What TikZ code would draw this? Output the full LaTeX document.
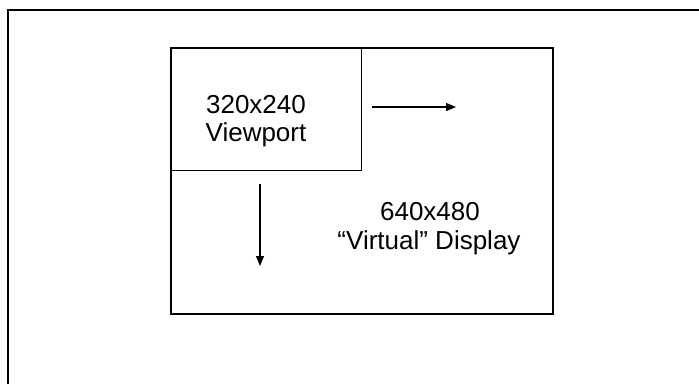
\documentclass[tikz,border=0pt]{standalone}
\usepackage{fontspec}
\setmainfont{Liberation Sans}
\usetikzlibrary{arrows.meta}
\begin{document}
\begin{tikzpicture}[x=1pt,y=-1pt,
  lbl/.style={align=center,font=\fontsize{26}{28.5}\selectfont,inner sep=0pt},
  arr/.style={line width=1.2pt,-{Triangle[length=10pt,width=8pt]}}]
\useasboundingbox (0,0) rectangle (699,384);
% outer frame (only left and top edges visible)
\draw[line width=2.4pt] (8,384) -- (8,10) -- (699,10);
% virtual display
\node[draw,line width=2.2pt,minimum width=382pt,minimum height=266pt,inner sep=0pt] (display) at (362,181) {};
% viewport
\node[draw,line width=1.2pt,minimum width=191pt,minimum height=123pt,inner sep=0pt,anchor=north west] (viewport) at (display.north west) {};
\node[lbl,anchor=base] (vptxt1) at (256,113) {320x240};
\node[lbl,anchor=base] (vptxt2) at (256,141.5) {Viewport};
\node[lbl,anchor=base] (dtxt1) at (430,220) {640x480};
\node[lbl,anchor=base] (dtxt2) at (429,249) {“Virtual” Display};
% arrows
\coordinate (rs) at (372,107);
\coordinate (re) at (456,107);
\coordinate (ds) at (260,184);
\coordinate (de) at (260,266);
\draw[arr] (rs) -- (re);
\draw[arr] (ds) -- (de);
\end{tikzpicture}
\end{document}
